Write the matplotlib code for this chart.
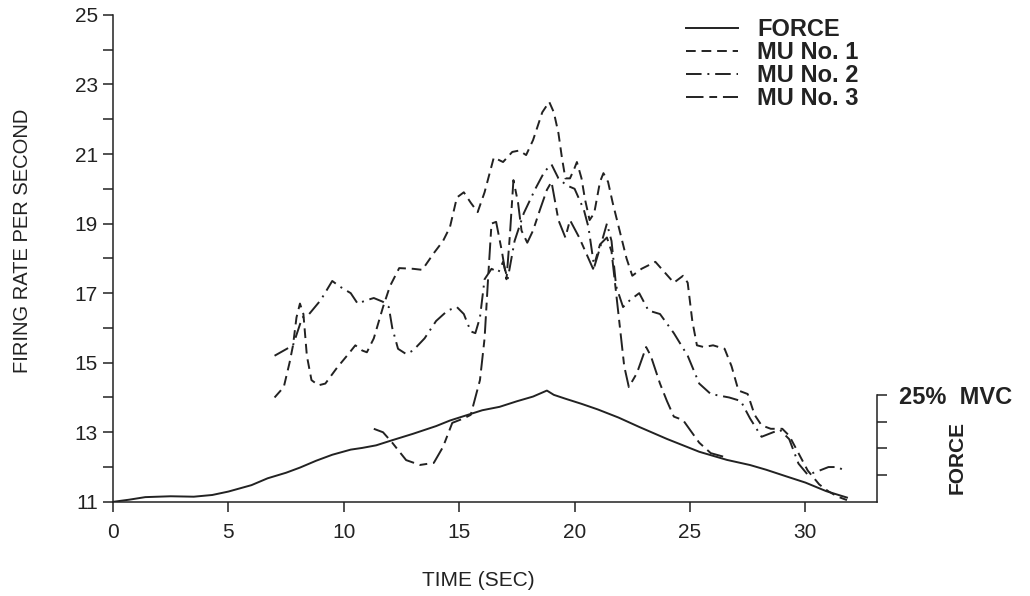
import matplotlib
matplotlib.use("Agg")
import matplotlib.pyplot as plt

plt.rcParams['font.family'] = ['Liberation Sans', 'DejaVu Sans']

# force, in % MVC
force_t = [0, 0.7, 1.4, 2.5, 3.5, 4.3, 5.0, 6.0, 6.7, 7.5, 8.1, 8.8, 9.5, 10.3, 10.8,
           11.4, 12.1, 13.0, 14.0, 14.6, 15.3, 16.0, 16.75, 17.5, 18.2, 18.8, 19.1,
           19.6, 20.3, 21.0, 21.9, 22.8, 24.0, 25.4, 26.6, 27.6, 28.3, 29.2, 30.0,
           30.9, 31.8]
force_pct = [0.0, 0.5, 1.1, 1.3, 1.2, 1.6, 2.4, 3.9, 5.5, 6.8, 8.0, 9.6, 11.0, 12.2, 12.6,
             13.2, 14.4, 15.9, 17.7, 19.0, 20.2, 21.4, 22.2, 23.5, 24.6, 26.0, 25.0,
             24.1, 22.9, 21.6, 19.7, 17.5, 14.7, 11.7, 9.8, 8.6, 7.5, 5.9, 4.5,
             2.5, 1.0]

# motor unit firing rates
mu1_t = [7.0, 7.4, 7.65, 7.8, 7.95, 8.1, 8.25, 8.4, 8.6, 8.9, 9.2, 9.7, 10.2, 10.5,
         10.8, 11.0, 11.3, 11.7, 12.0, 12.4, 13.0, 13.4, 13.9, 14.3, 14.6, 14.9, 15.2,
         15.5, 15.8, 16.1, 16.5, 16.9, 17.3, 17.6, 17.9, 18.2, 18.6, 18.9, 19.1, 19.3,
         19.45, 19.6, 19.8, 20.0, 20.1, 20.3, 20.45, 20.65, 20.85, 21.1, 21.25, 21.45,
         21.65, 21.95, 22.25, 22.5, 22.9, 23.5, 23.9, 24.3, 24.7, 24.9, 25.1, 25.3,
         25.6, 26.0, 26.5, 26.8, 27.1, 27.5, 27.8, 28.1, 28.5, 29.0, 29.3, 29.7, 30.1,
         30.6, 31.0, 31.4, 31.8]
mu1_rate = [14.0, 14.3, 15.0, 15.5, 16.3, 16.7, 16.4, 15.2, 14.5, 14.35, 14.4, 14.85,
            15.25, 15.5, 15.35, 15.3, 15.7, 16.6, 17.2, 17.72, 17.7, 17.67, 18.15, 18.5,
            18.9, 19.75, 19.9, 19.6, 19.33, 19.9, 20.9, 20.77, 21.06, 21.1, 20.97, 21.4,
            22.2, 22.5, 22.2, 21.6, 20.9, 20.3, 20.3, 20.6, 20.77, 20.3, 19.7, 19.1,
            19.3, 20.2, 20.45, 20.2, 19.6, 18.8, 18.0, 17.5, 17.7, 17.9, 17.6, 17.3,
            17.5, 17.3, 16.2, 15.5, 15.45, 15.5, 15.4, 14.9, 14.2, 14.1, 13.5, 13.2,
            13.1, 13.1, 12.9, 12.4, 11.9, 11.5, 11.3, 11.15, 11.05]

mu2_t = [7.0, 7.4, 7.8, 8.2, 8.5, 9.0, 9.5, 9.8, 10.3, 10.6, 11.0, 11.3, 11.7, 11.95,
         12.1, 12.35, 12.7, 13.0, 13.5, 14.0, 14.5, 14.9, 15.2, 15.5, 15.7, 15.9, 16.1,
         16.4, 16.7, 16.9, 17.1, 17.4, 17.8, 18.3, 18.7, 19.0, 19.3, 19.65, 20.0, 20.4,
         20.6, 20.85, 21.1, 21.4, 21.6, 21.8, 22.1, 22.4, 22.8, 23.2, 23.7, 24.3, 24.9,
         25.4, 25.9, 26.7, 27.2, 27.6, 28.1, 28.6, 28.9, 29.3, 29.7, 30.1, 30.5, 31.0,
         31.4, 31.8]
mu2_rate = [15.2, 15.35, 15.5, 16.3, 16.4, 16.8, 17.35, 17.2, 17.0, 16.7, 16.8, 16.86,
            16.75, 16.6, 16.0, 15.4, 15.25, 15.35, 15.7, 16.2, 16.5, 16.6, 16.4, 15.9,
            15.85, 16.3, 17.4, 17.7, 17.6, 17.9, 17.4, 18.5, 19.3, 20.0, 20.5, 20.7, 20.3,
            20.1, 20.0, 19.4, 18.9, 17.75, 18.3, 19.0, 18.5, 17.2, 16.6, 16.8, 17.0, 16.5,
            16.4, 15.85, 15.2, 14.4, 14.1, 14.0, 13.9, 13.4, 12.87, 13.0, 13.07, 12.8,
            12.1, 11.78, 11.87, 12.0, 12.0, 11.86]

mu3_t = [11.3, 11.7, 12.1, 12.7, 13.3, 13.9, 14.3, 14.7, 15.2, 15.5, 15.9, 16.1, 16.25,
         16.4, 16.6, 16.85, 17.05, 17.2, 17.35, 17.55, 17.7, 17.95, 18.2, 18.5, 18.8,
         19.0, 19.3, 19.6, 19.8, 20.2, 20.5, 20.8, 21.1, 21.4, 21.6, 21.9, 22.15, 22.35,
         22.7, 23.1, 23.3, 23.7, 24.0, 24.3, 24.7, 25.0, 25.4, 25.9, 26.6]
mu3_rate = [13.1, 13.0, 12.7, 12.2, 12.06, 12.12, 12.58, 13.27, 13.4, 13.5, 14.5, 15.7,
            17.4, 19.0, 19.05, 18.2, 17.4, 18.7, 20.25, 19.6, 18.8, 18.45, 18.8, 19.4,
            19.97, 20.2, 19.1, 18.6, 19.1, 18.6, 18.15, 17.7, 18.4, 18.6, 18.2, 16.4,
            14.9, 14.3, 14.7, 15.45, 15.2, 14.4, 13.9, 13.45, 13.35, 13.07, 12.7, 12.4,
            12.27]

x_ticks = [0, 5, 10, 15, 20, 25, 30]
y_ticks = [11, 13, 15, 17, 19, 21, 23, 25]
force_ticks = [6.25, 12.5, 18.75, 25]

fig = plt.figure(figsize=(10.3, 5.96), dpi=100)
ax = fig.add_axes([0.1097, 0.158, 0.7417, 0.817])
ax2 = ax.twinx()

ink = '#222222'
lw = 1.4
mu1_style = (0, (5, 3))
mu2_style = (0, (8, 3, 1, 3))
mu3_style = (0, (9, 3, 4, 3))

ax.plot(mu1_t, mu1_rate, color=ink, lw=lw, linestyle=mu1_style)
ax.plot(mu2_t, mu2_rate, color=ink, lw=lw, linestyle=mu2_style)
ax.plot(mu3_t, mu3_rate, color=ink, lw=lw, linestyle=mu3_style)
ax2.plot(force_t, force_pct, color=ink, lw=lw)

ax.set_xlim(0, 33.1)
ax.set_ylim(11, 25)
ax2.set_ylim(0, 25 * 487 / 107)

ax.set_xticks(x_ticks)
ax.set_yticks(y_ticks)
ax.set_yticks(range(12, 25, 2), minor=True)
ax.tick_params(axis='both', which='both', direction='out', length=7, width=1.1,
               labelsize=15, color=ink, labelcolor=ink)
ax.tick_params(axis='x', pad=8)
ax.tick_params(axis='y', pad=4)

for side in ['top', 'right']:
    ax.spines[side].set_visible(False)
for side in ['top', 'left', 'bottom']:
    ax2.spines[side].set_visible(False)
for side in ['left', 'bottom']:
    ax.spines[side].set_linewidth(1.1)
    ax.spines[side].set_color(ink)
ax2.spines['right'].set_bounds(0, 25)
ax2.spines['right'].set_linewidth(1.1)
ax2.spines['right'].set_color(ink)

ax2.set_yticks(force_ticks)
ax2.set_yticklabels(['', '', '', '25%  MVC'], fontweight='bold')
ax2.tick_params(axis='y', direction='out', length=7, width=1.1, labelsize=17,
                pad=9, color=ink, labelcolor=ink)

ax.set_xlabel('TIME (SEC)', fontsize=15, color=ink)
ax.xaxis.set_label_coords(0.478, -0.143)
ax.set_ylabel('FIRING RATE PER SECOND', fontsize=14.5, color=ink)
ax.yaxis.set_label_coords(-0.106, 0.536)

fig.text(0.929, 0.233, 'FORCE', rotation=90, fontsize=15, fontweight='bold',
         color=ink, ha='center', va='center')

# legend
handles = [
    plt.Line2D([], [], color=ink, lw=lw),
    plt.Line2D([], [], color=ink, lw=lw, linestyle=mu1_style),
    plt.Line2D([], [], color=ink, lw=lw, linestyle=mu2_style),
    plt.Line2D([], [], color=ink, lw=lw, linestyle=mu3_style),
]
labels = ['FORCE', 'MU No. 1', 'MU No. 2', 'MU No. 3']
fig.legend(handles, labels, loc='upper left', bbox_to_anchor=(0.655, 0.99),
           frameon=False, handlelength=2.2, handletextpad=0.8, labelspacing=0.0,
           borderpad=0, prop={'size': 17, 'weight': 'bold'}, labelcolor=ink)

fig.savefig('out.png', dpi=100, facecolor='white')
